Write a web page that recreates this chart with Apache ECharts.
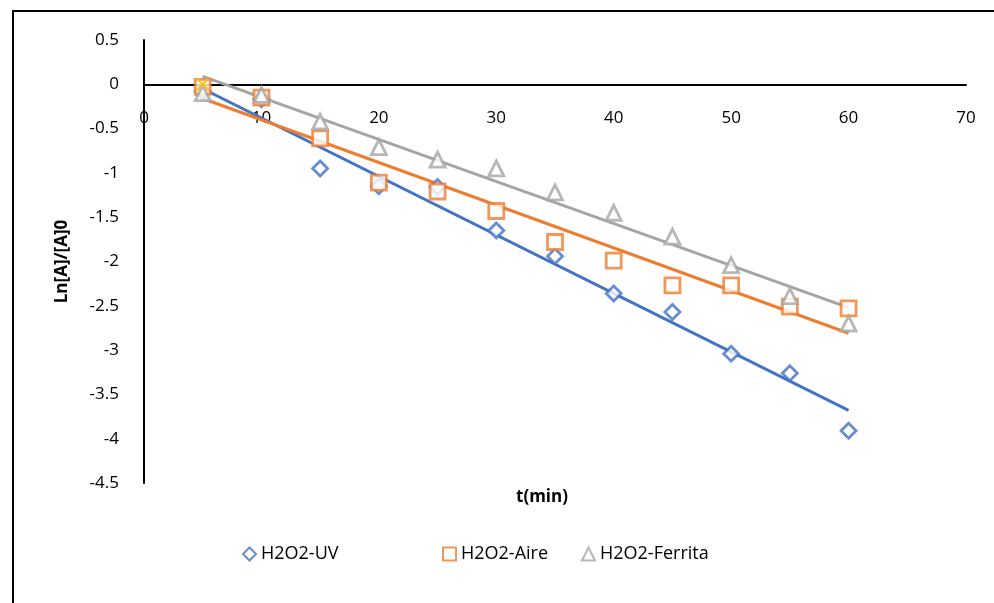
<!DOCTYPE html>
<html>
<head>
<meta charset="utf-8">
<script src="https://cdn.jsdelivr.net/npm/echarts@6/dist/echarts.min.js"></script>
<style>
  html, body { margin: 0; padding: 0; background: #fff; }
  #main { width: 994px; height: 603px; }
</style>
</head>
<body>
<div id="main"></div>
<script>
var tiempo = [5, 10, 15, 20, 25, 30, 35, 40, 45, 50, 55, 60];
var uv = [-0.08, -0.17, -0.95, -1.15, -1.16, -1.65, -1.94, -2.36, -2.57, -3.04, -3.26, -3.91];
var aire = [-0.03, -0.15, -0.61, -1.11, -1.21, -1.43, -1.78, -1.99, -2.27, -2.27, -2.51, -2.53];
var ferrita = [-0.10, -0.12, -0.42, -0.71, -0.85, -0.95, -1.22, -1.45, -1.72, -2.04, -2.39, -2.70];
// punto suelto (amarillo) en t=5
var extra = [[5, 0.0]];
// lineas de tendencia
var tendUV = [[5, -0.05], [60, -3.68]];
var tendAire = [[5, -0.16], [60, -2.81]];
var tendFerrita = [[5, 0.09], [60, -2.52]];
var nombres = ['H2O2-UV', 'H2O2-Aire', 'H2O2-Ferrita'];

var colores = {
  uv: '#4472C4',
  aire: '#ED7D31',
  ferrita: '#A5A5A5',
  extra: '#FFC000'
};
var fuente = 'Open Sans';

function pares(ys) {
  var out = [];
  for (var i = 0; i < tiempo.length; i++) {
    out.push([tiempo[i], ys[i]]);
  }
  return out;
}

function tendencia(data, color) {
  return {
    type: 'line',
    data: data,
    symbol: 'none',
    silent: true,
    z: 2,
    lineStyle: {color: color, width: 3}
  };
}

function puntos(name, ys, symbol, color) {
  return {
    name: name,
    type: 'scatter',
    data: pares(ys),
    symbol: symbol,
    symbolSize: 15,
    z: 3,
    itemStyle: {color: '#fff', borderColor: color, borderWidth: 2.8}
  };
}

function leyenda(name, left) {
  return {
    data: [name],
    left: left,
    top: 540,
    itemWidth: 13,
    itemHeight: 13,
    textStyle: {fontFamily: fuente, fontSize: 18, color: '#000'},
    selectedMode: false
  };
}

var option = {
  animation: false,
  backgroundColor: '#fff',
  grid: {left: 144, right: 28, top: 40, bottom: 120},
  xAxis: {
    type: 'value',
    min: 0,
    max: 70,
    interval: 10,
    position: 'top',
    offset: -44.3, // la linea del eje cae en y = 0
    axisLine: {onZero: false, lineStyle: {color: '#000', width: 2}},
    axisTick: {show: false},
    splitLine: {show: false},
    axisLabel: {inside: true, margin: 25, fontFamily: fuente, fontSize: 17, color: '#000'}
  },
  yAxis: {
    type: 'value',
    min: -4.5,
    max: 0.5,
    interval: 0.5,
    name: 'Ln[A]/[A]0',
    nameLocation: 'middle',
    nameGap: 73,
    nameTextStyle: {fontFamily: fuente, fontSize: 17, fontWeight: 'bold', color: '#000'},
    axisLine: {show: true, onZero: false, lineStyle: {color: '#000', width: 2}},
    axisTick: {show: false},
    splitLine: {show: false},
    axisLabel: {margin: 25, fontFamily: fuente, fontSize: 17, color: '#000'}
  },
  legend: [
    leyenda(nombres[0], 237),
    leyenda(nombres[1], 437),
    leyenda(nombres[2], 576)
  ],
  graphic: [
    {
      type: 'rect',
      shape: {x: 13, y: 11, width: 1100, height: 800},
      style: {fill: 'none', stroke: '#000', lineWidth: 2},
      silent: true
    },
    {
      type: 'text',
      left: 516,
      top: 489,
      style: {text: 't(min)', fontFamily: fuente, fontSize: 17, fontWeight: 'bold', fill: '#000'}
    }
  ],
  series: [
    tendencia(tendUV, colores.uv),
    tendencia(tendAire, colores.aire),
    tendencia(tendFerrita, colores.ferrita),
    puntos(nombres[0], uv, 'diamond', colores.uv),
    puntos(nombres[1], aire, 'rect', colores.aire),
    puntos(nombres[2], ferrita, 'triangle', colores.ferrita),
    {
      type: 'scatter',
      data: extra,
      symbol: 'path://M0,0 L10,10 M10,0 L0,10',
      symbolSize: 12,
      z: 4,
      itemStyle: {color: 'none', borderColor: colores.extra, borderWidth: 2.5}
    }
  ]
};

var myChart = echarts.init(document.getElementById('main'));
myChart.setOption(option);
window.onresize = function () {
  myChart.resize();
};
</script>
</body>
</html>
